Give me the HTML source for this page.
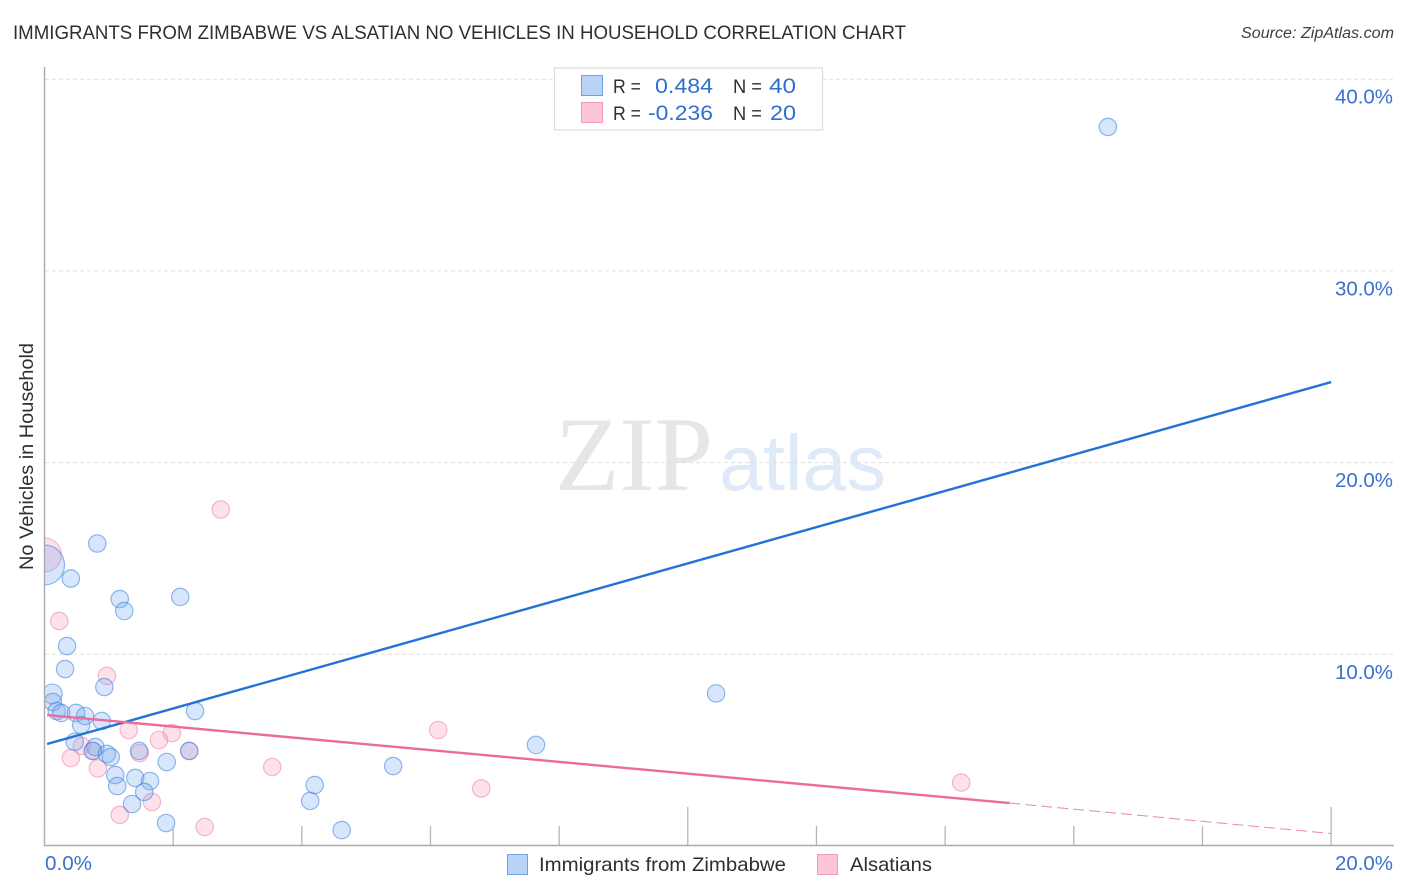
<!DOCTYPE html>
<html lang="en">
<head>
<meta charset="utf-8">
<title>Immigrants from Zimbabwe vs Alsatian No Vehicles in Household Correlation Chart</title>
<style>
html,body{margin:0;padding:0;background:#fff;}
svg{display:block;font-family:"Liberation Sans",sans-serif;}
</style>
</head>
<body>
<svg id="chart" width="1406" height="892" viewBox="0 0 1406 892" xmlns="http://www.w3.org/2000/svg">
  <defs>
    <clipPath id="plotClip"><rect x="44.5" y="60" width="1350" height="786"/></clipPath>
  </defs>
  <text x="13" y="39" font-size="19" fill="#2b2f36" textLength="893" lengthAdjust="spacingAndGlyphs">IMMIGRANTS FROM ZIMBABWE VS ALSATIAN NO VEHICLES IN HOUSEHOLD CORRELATION CHART</text>
  <text x="1394" y="38" font-size="15.5" font-style="italic" fill="#3a3f47" text-anchor="end" textLength="153" lengthAdjust="spacingAndGlyphs">Source: ZipAtlas.com</text>
  <g>
    <text x="555" y="490" font-family="'Liberation Serif',serif" font-size="106" fill="#e6e6e6" textLength="158" lengthAdjust="spacingAndGlyphs">ZIP</text>
    <text x="719" y="490" font-size="79" fill="#dfeaf8" textLength="167" lengthAdjust="spacingAndGlyphs">atlas</text>
  </g>
  <g id="grid"></g>
  <g id="pinkDots" clip-path="url(#plotClip)"></g>
  <g id="blueDots" clip-path="url(#plotClip)"></g>
  <g id="lines"></g>
  <g id="axes"></g>
  <text transform="translate(33,456.5) rotate(-90)" font-size="19" fill="#2b2f36" text-anchor="middle" textLength="227" lengthAdjust="spacingAndGlyphs">No Vehicles in Household</text>

  <g>
    <rect x="554.5" y="68" width="268" height="62" fill="#fff" stroke="#dddddd" stroke-width="1.2"/>
    <rect x="581.5" y="75.5" width="21" height="20" fill="#b8d3f5" stroke="#6fa3e6" stroke-width="1"/>
    <rect x="581.5" y="102.5" width="21" height="20" fill="#fcc6d8" stroke="#f09ab5" stroke-width="1"/>
    <text x="613" y="93" font-size="19" fill="#2b2f36" textLength="28" lengthAdjust="spacingAndGlyphs">R =</text>
    <text x="713" y="93" font-size="21" fill="#2f6fd0" text-anchor="end" textLength="58" lengthAdjust="spacingAndGlyphs">0.484</text>
    <text x="733" y="93" font-size="19" fill="#2b2f36" textLength="29" lengthAdjust="spacingAndGlyphs">N =</text>
    <text x="796" y="93" font-size="21" fill="#2f6fd0" text-anchor="end" textLength="27" lengthAdjust="spacingAndGlyphs">40</text>
    <text x="613" y="120" font-size="19" fill="#2b2f36" textLength="28" lengthAdjust="spacingAndGlyphs">R =</text>
    <text x="713" y="120" font-size="21" fill="#2f6fd0" text-anchor="end" textLength="65" lengthAdjust="spacingAndGlyphs">-0.236</text>
    <text x="733" y="120" font-size="19" fill="#2b2f36" textLength="29" lengthAdjust="spacingAndGlyphs">N =</text>
    <text x="796" y="120" font-size="21" fill="#2f6fd0" text-anchor="end" textLength="26" lengthAdjust="spacingAndGlyphs">20</text>
  </g>

  <g>
    <rect x="507.5" y="854.5" width="20" height="20" fill="#b8d3f5" stroke="#6fa3e6" stroke-width="1"/>
    <text x="539" y="871" font-size="19.5" fill="#2b2f36" textLength="247" lengthAdjust="spacingAndGlyphs">Immigrants from Zimbabwe</text>
    <rect x="817.5" y="854.5" width="20" height="20" fill="#fcc6d8" stroke="#f09ab5" stroke-width="1"/>
    <text x="850" y="871" font-size="19.5" fill="#2b2f36" textLength="82" lengthAdjust="spacingAndGlyphs">Alsatians</text>
  </g>
</svg>

<script>
const yTickValues = [10, 20, 30, 40];
const yTickLabels = ["10.0%", "20.0%", "30.0%", "40.0%"];
const xTickValues = [0, 2, 4, 6, 8, 10, 12, 14, 16, 18, 20];
const xMajorTicks = [10, 20];
const xEdgeValues = [0, 20];
const xEdgeLabels = ["0.0%", "20.0%"];

const zimbabweX = [16.53,0.82,0.00,0.41,1.17,1.24,2.11,0.35,0.32,0.93,0.12,0.13,0.19,0.26,0.49,0.63,0.57,0.89,2.34,0.47,0.79,0.75,0.97,1.03,1.47,2.25,1.90,1.10,1.13,1.41,1.64,1.55,1.36,1.89,4.20,4.13,4.62,5.42,7.64,10.44];
const zimbabweY = [37.51,15.78,14.66,13.95,12.88,12.26,12.99,10.43,9.23,8.29,7.93,7.51,7.04,6.94,6.94,6.78,6.31,6.52,7.04,5.43,5.16,4.96,4.80,4.64,4.96,4.96,4.38,3.70,3.13,3.55,3.39,2.82,2.19,1.20,3.18,2.35,0.83,4.17,5.27,7.96];
const zimbabweWeight = [1,1,5.3,1,1,1,1,1,1,1,1.3,1,1,1,1,1,1,1,1,1,1,1,1,1,1,1,1,1,1,1,1,1,1,1,1,1,1,1,1,1];

const alsatianX = [2.74,0.23,0.97,1.31,1.98,1.78,0.58,0.41,0.83,1.48,2.25,0.75,3.54,1.67,1.17,2.49,6.12,6.79,14.25,0.00];
const alsatianY = [17.55,11.74,8.87,6.05,5.89,5.53,5.22,4.59,4.05,4.85,4.96,4.96,4.12,2.30,1.62,0.99,6.05,3.00,3.31,15.18];
const alsatianWeight = [1,1,1,1,1,1,1,1,1,1,1,1,1,1,1,1,1,1,1,3.8];

const zimbabweTrendX = [0.04, 20];
const zimbabweTrendY = [5.32, 24.2];
const alsatianTrendX = [0.04, 15];
const alsatianTrendY = [6.83, 2.24];
const alsatianDashX = [15, 20];
const alsatianDashY = [2.24, 0.65];

const sx = v => 44.5 + v * 64.33;
const sy = v => 846 - v * 19.17;
const NS = "http://www.w3.org/2000/svg";

function make(tag, parentId, attrs) {
  const el = document.createElementNS(NS, tag);
  for (const k in attrs) el.setAttribute(k, attrs[k]);
  document.getElementById(parentId).appendChild(el);
  return el;
}

yTickValues.forEach((v, i) => {
  const line = make("line", "grid", {x1: 45, x2: 1394, y1: sy(v), y2: sy(v), stroke: "#dedede", "stroke-width": 1, "stroke-dasharray": "4 3"});
  
  
  const label = make("text", "axes", {x: 1393, y: sy(v) + 24.5, "font-size": 20, fill: "#3a70cf", "text-anchor": "end", textLength: 58, lengthAdjust: "spacingAndGlyphs"});
  label.textContent = yTickLabels[i];
  
  
});

const yAxis = make("line", "axes", {x1: 44.5, x2: 44.5, y1: 67, y2: 846, stroke: "#aaaaaa", "stroke-width": 1.4});


const xAxis = make("line", "axes", {x1: 44, x2: 1394, y1: 845.5, y2: 845.5, stroke: "#aaaaaa", "stroke-width": 1.4});



xTickValues.forEach(v => {
  const top = xMajorTicks.includes(v) ? 807 : 826;
  const tick = make("line", "axes", {x1: sx(v), x2: sx(v), y1: top, y2: 845.5, stroke: "#b5b5b5", "stroke-width": 1.3});
  
  
});

xEdgeValues.forEach((v, i) => {
  const anchorEnd = i === 1;
  const label = make("text", "axes", {x: anchorEnd ? 1393 : 45, y: 870, "font-size": 20, fill: "#3a70cf", "text-anchor": anchorEnd ? "end" : "start", textLength: anchorEnd ? 58 : 47, lengthAdjust: "spacingAndGlyphs"});
  label.textContent = xEdgeLabels[i];
  
  
});

alsatianX.forEach((v, i) => {
  const dot = make("circle", "pinkDots", {cx: sx(v), cy: sy(alsatianY[i]), r: 8.7 * Math.sqrt(alsatianWeight[i]), fill: "rgba(247,160,188,0.3)", stroke: "rgba(236,130,165,0.55)", "stroke-width": 1.2});
  
  
});

zimbabweX.forEach((v, i) => {
  const dot = make("circle", "blueDots", {cx: sx(v), cy: sy(zimbabweY[i]), r: 8.7 * Math.sqrt(zimbabweWeight[i]), fill: "rgba(110,166,236,0.28)", stroke: "rgba(60,130,224,0.55)", "stroke-width": 1.2});
  
  
});

const blueLine = make("line", "lines", {x1: sx(zimbabweTrendX[0]), y1: sy(zimbabweTrendY[0]), x2: sx(zimbabweTrendX[1]), y2: sy(zimbabweTrendY[1]), stroke: "#2272d8", "stroke-width": 2.4});


const pinkLine = make("line", "lines", {x1: sx(alsatianTrendX[0]), y1: sy(alsatianTrendY[0]), x2: sx(alsatianTrendX[1]), y2: sy(alsatianTrendY[1]), stroke: "#ec6b9c", "stroke-width": 2.4});


const pinkDash = make("line", "lines", {x1: sx(alsatianDashX[0]), y1: sy(alsatianDashY[0]), x2: sx(alsatianDashX[1]), y2: sy(alsatianDashY[1]), stroke: "#e58aaa", "stroke-width": 1, "stroke-dasharray": "11 5"});


</script>
</body>
</html>
